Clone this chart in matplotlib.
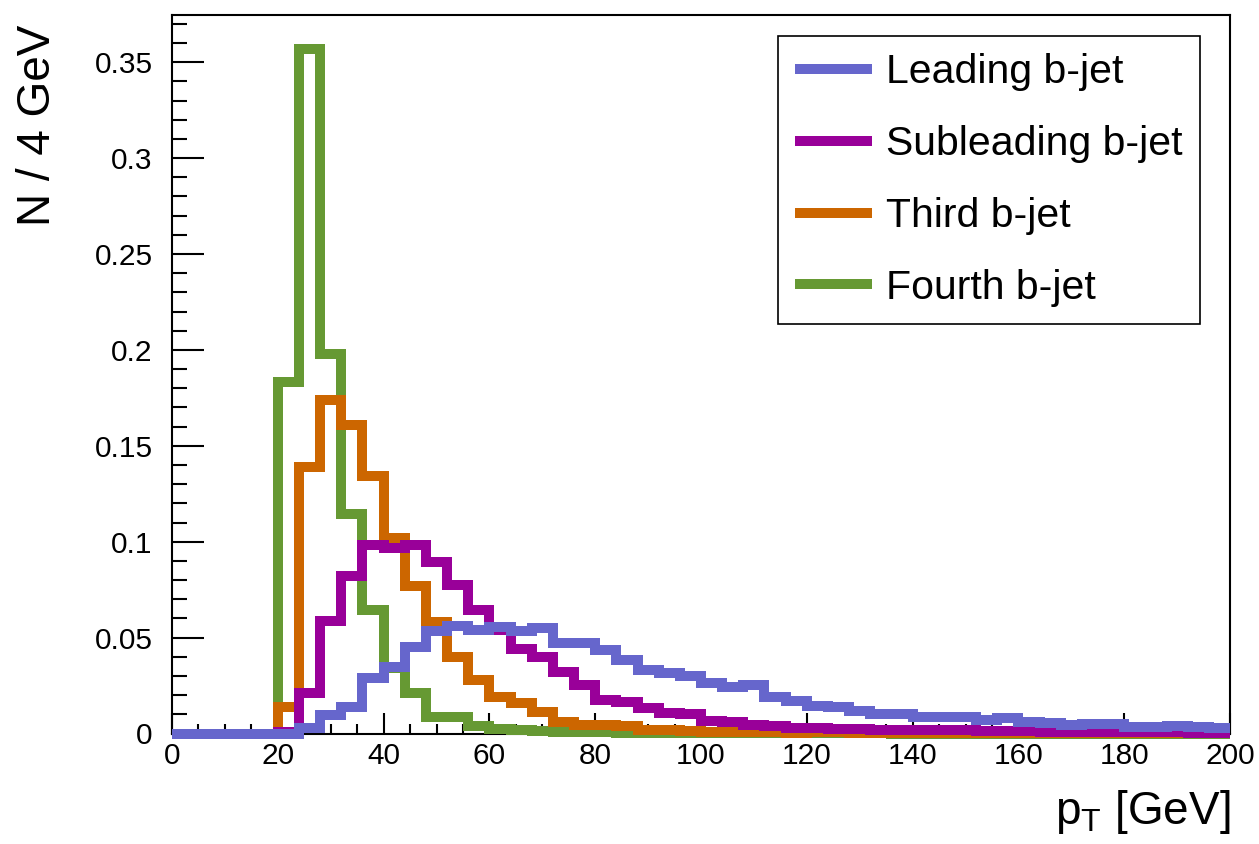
import numpy as np
import matplotlib
matplotlib.use("Agg")
import matplotlib.pyplot as plt
from matplotlib.lines import Line2D
from matplotlib.ticker import MultipleLocator, FuncFormatter

# ---------------- data ----------------
bin_edges = np.arange(0, 204, 4)  # 50 bins of 4 GeV, 0..200

leading = [0, 0, 0, 0, 0, 0, 0.0027, 0.0096, 0.014, 0.029,
           0.0348, 0.0453, 0.0534, 0.056, 0.054, 0.0557, 0.0536, 0.0552, 0.047, 0.0473,
           0.0435, 0.0383, 0.0331, 0.0314, 0.0300, 0.0264, 0.0242, 0.0254, 0.0192, 0.0167,
           0.0145, 0.0140, 0.0117, 0.0102, 0.0104, 0.0088, 0.0087, 0.0086, 0.0068, 0.0080,
           0.0062, 0.0055, 0.0046, 0.0050, 0.0047, 0.0035, 0.0033, 0.0037, 0.0033, 0.0028]

subleading = [0, 0, 0, 0, 0, 0.001, 0.021, 0.0588, 0.0823, 0.0985,
              0.0965, 0.0985, 0.0896, 0.0774, 0.0644, 0.054, 0.0439, 0.040, 0.0322, 0.0253,
              0.0175, 0.0166, 0.0131, 0.0105, 0.0100, 0.0064, 0.0062, 0.0042, 0.0040, 0.0030,
              0.0027, 0.0025, 0.0023, 0.0020, 0.0020, 0.0017, 0.0016, 0.0017, 0.0013, 0.0012,
              0.0011, 0.0010, 0.0009, 0.0009, 0.0008, 0.0007, 0.0006, 0.0006, 0.0005, 0.0005]

third = [0, 0, 0, 0, 0, 0.014, 0.139, 0.174, 0.161, 0.134,
         0.102, 0.077, 0.058, 0.040, 0.028, 0.019, 0.016, 0.011, 0.006, 0.0045,
         0.0043, 0.0040, 0.0018, 0.0020, 0.0012, 0.0010, 0.0008, 0.0008, 0.0006, 0.0005,
         0.0006, 0.0008, 0.0005, 0.0004, 0.0003, 0.0002, 0.0002, 0.0002, 0.0002, 0.0002,
         0.0001, 0.0001, 0.0001, 0.0001, 0.0001, 0.0001, 0.0001, 0.0001, 0.0001, 0.0001]

fourth = [0, 0, 0, 0, 0, 0.183, 0.357, 0.198, 0.1144, 0.0644,
          0.034, 0.0213, 0.0088, 0.0084, 0.0039, 0.0025, 0.0018, 0.0012, 0.0010, 0.0008,
          0.0006, 0.0005, 0.0004, 0.0003, 0.0003, 0.0002, 0.0002, 0.0002, 0.0001, 0.0001,
          0.0001, 0.0001, 0.0001, 0.0001, 0, 0, 0, 0, 0, 0,
          0, 0, 0, 0, 0, 0, 0, 0, 0, 0]

labels = ["Leading b-jet", "Subleading b-jet", "Third b-jet", "Fourth b-jet"]
colors = ["#6666CC", "#990099", "#CC6600", "#669933"]
series = [leading, subleading, third, fourth]

# ---------------- style ----------------
plt.rcParams['font.family'] = ['Liberation Sans', 'DejaVu Sans']
plt.rcParams['mathtext.fontset'] = 'custom'
plt.rcParams['mathtext.rm'] = 'Liberation Sans'
plt.rcParams['mathtext.it'] = 'Liberation Sans'

W, H = 1259, 844
fig = plt.figure(figsize=(W / 100, H / 100), dpi=100)
ax_l, ax_r, ax_t, ax_b = 172, 1230, 15, 733.5
ax = fig.add_axes([ax_l / W, 1 - ax_b / H, (ax_r - ax_l) / W, (ax_b - ax_t) / H])

lw = 7.2
zorders = [6, 5, 4, 3]
for vals, col, z in zip(series, colors, zorders):
    ax.stairs(vals, bin_edges, baseline=None, color=col, linewidth=lw,
              zorder=z, clip_on=False, joinstyle='miter', capstyle='butt')

ax.set_xlim(0, 200)
ax.set_ylim(0, 0.3746)

for s in ax.spines.values():
    s.set_linewidth(1.5)
    s.set_zorder(2)

ax.xaxis.set_major_locator(MultipleLocator(20))
ax.xaxis.set_minor_locator(MultipleLocator(5))
ax.yaxis.set_major_locator(MultipleLocator(0.05))
ax.yaxis.set_minor_locator(MultipleLocator(0.01))
ax.yaxis.set_major_formatter(FuncFormatter(lambda v, p: "%g" % round(v, 4)))

ax.tick_params(axis='y', which='major', direction='in', length=23, width=1.5,
               labelsize=21.5, pad=14, right=False)
ax.tick_params(axis='y', which='minor', direction='in', length=11, width=1.5, right=False)
ax.tick_params(axis='x', which='major', direction='in', length=15, width=1.5,
               labelsize=21.5, pad=6, top=False)
ax.tick_params(axis='x', which='minor', direction='in', length=7.5, width=1.5, top=False)

fig.text(38 / W, 1 - 25 / H, "N / 4 GeV", rotation=90, ha='center', va='top', fontsize=33)
fig.text(1230 / W, 1 - 812 / H, r"$\mathrm{p}_{\mathrm{T}}$ [GeV]", ha='right', va='center',
         fontsize=33)

handles = [Line2D([0], [0], color=c, linewidth=lw, solid_capstyle='butt') for c in colors]
leg = ax.legend(handles, labels, loc='upper right',
                bbox_to_anchor=(1200 / W, 1 - 36 / H), bbox_transform=fig.transFigure,
                borderaxespad=0, fontsize=29.5, frameon=True, fancybox=False,
                edgecolor='black', framealpha=1, borderpad=0.42, labelspacing=0.826,
                handlelength=1.86, handletextpad=0.36)
leg.get_frame().set_linewidth(1.2)
leg.set_zorder(10)

fig.savefig("out.png", dpi=100)
